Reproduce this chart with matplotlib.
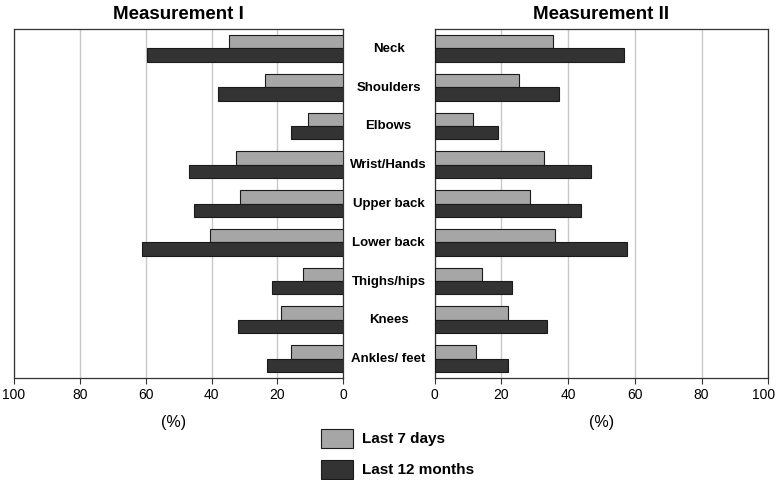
import matplotlib
matplotlib.use("Agg")
import matplotlib.pyplot as plt
import matplotlib.transforms as mtransforms
import numpy as np
from matplotlib.patches import Rectangle

plt.rcParams['font.family'] = ['Liberation Sans', 'DejaVu Sans']

categories = ["Neck", "Shoulders", "Elbows", "Wrist/Hands", "Upper back",
              "Lower back", "Thighs/hips", "Knees", "Ankles/ feet"]
m1_7days = [34.6, 23.7, 10.6, 32.5, 31.3, 40.4, 12.1, 18.9, 16.0]
m1_12months = [59.5, 38.1, 16.0, 46.8, 45.4, 61.0, 21.6, 31.9, 23.3]
m2_7days = [35.4, 25.2, 11.4, 32.7, 28.7, 36.2, 14.1, 21.9, 12.3]
m2_12months = [56.8, 37.2, 19.0, 47.0, 43.8, 57.5, 23.3, 33.7, 22.0]
ticks = [0, 20, 40, 60, 80, 100]
series_labels = ["Last 7 days", "Last 12 months"]

light = "#a6a6a6"
dark = "#333333"
edge = "#1a1a1a"

fig = plt.figure(figsize=(7.77, 4.8), dpi=100)
W, H = 777, 480
bottom = (480 - 378) / H
height = (378 - 29) / H
ax1 = fig.add_axes([14 / W, bottom, (343.3 - 14) / W, height])
ax2 = fig.add_axes([434.7 / W, bottom, (768.3 - 434.7) / W, height])

y = np.arange(len(categories))
bh = 0.344

for ax, s7, s12, title in [(ax1, m1_7days, m1_12months, "Measurement I"),
                           (ax2, m2_7days, m2_12months, "Measurement II")]:
    ax.barh(y - bh / 2, s7, height=bh, color=light, edgecolor=edge, linewidth=0.8, zorder=3)
    ax.barh(y + bh / 2, s12, height=bh, color=dark, edgecolor=edge, linewidth=0.8, zorder=3)
    ax.set_ylim(len(categories) - 0.5, -0.5)
    ax.set_yticks([])
    ax.set_xticks(ticks)
    ax.set_xticklabels([str(t) for t in ticks], fontsize=10)
    ax.tick_params(axis='x', length=4, width=0.8, color="#333333", pad=3)
    ax.grid(axis='x', color="#c8c8c8", linewidth=1.0, zorder=0)
    for sp in ax.spines.values():
        sp.set_color("#333333")
        sp.set_linewidth(0.9)
    ax.set_title(title, fontsize=13.5, fontweight='bold', pad=7)

ax1.set_xlim(100, 0)
ax2.set_xlim(0, 100)

# shift the right-most "100" slightly left so it stays inside the figure
lab = ax2.get_xticklabels()[-1]
lab.set_transform(lab.get_transform() +
                  mtransforms.ScaledTranslation(-4.5 / 100, 0, fig.dpi_scale_trans))

fig.text(174 / W, 1 - 423 / H, "(%)", ha='center', va='center', fontsize=11.5)
fig.text(602 / W, 1 - 423 / H, "(%)", ha='center', va='center', fontsize=11.5)

# category labels between panels
for i, c in enumerate(categories):
    yc = 29 + (i + 0.5) * (349 / len(categories))
    fig.text(388.5 / W, 1 - (yc + 0.5) / H, c, ha='center', va='center',
             fontsize=9.5, fontweight='bold')

# legend
for j, (lab_txt, col) in enumerate(zip(series_labels, [light, dark])):
    y0 = 429.3 + j * 30.7
    fig.patches.append(Rectangle((321 / W, 1 - (y0 + 19) / H), 31.7 / W, 19 / H,
                                 transform=fig.transFigure, facecolor=col,
                                 edgecolor=edge, linewidth=0.8))
    fig.text(361.7 / W, 1 - (y0 + 10) / H, lab_txt, ha='left', va='center',
             fontsize=11, fontweight='bold')

fig.savefig("out.png", dpi=100)
